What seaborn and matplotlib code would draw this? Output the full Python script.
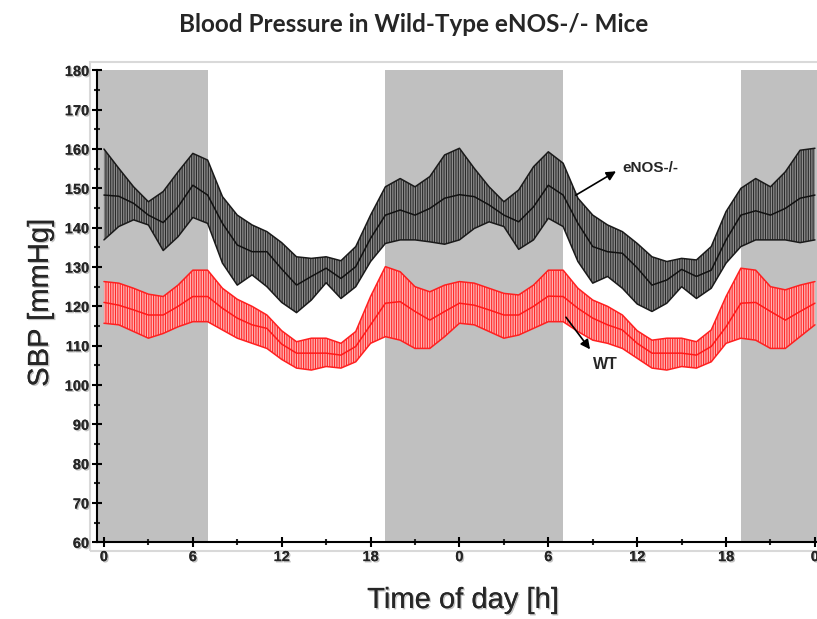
import numpy as np
import pandas as pd
import matplotlib.pyplot as plt
import matplotlib.patheffects as pe
from matplotlib.patches import Rectangle
from matplotlib.ticker import MultipleLocator
import seaborn as sns

# ---------------- data (hourly, double-plotted 48 h) ----------------
hours = list(range(0, 49))

enos_upper = [160.0, 155.1, 150.4, 146.6, 149.2, 154.2, 158.9, 157.2, 147.9, 143.2,
              140.7, 139.0, 136.2, 132.6, 132.2, 132.6, 131.6, 135.2, 143.2, 150.4,
              152.5, 150.4, 153.0, 158.5, 160.2, 155.1, 150.4, 146.6, 149.6, 155.5,
              159.3, 156.4, 147.5, 143.2, 140.7, 139.0, 136.0, 132.6, 131.4, 132.2,
              131.8, 135.2, 144.1, 150.0, 152.5, 150.4, 154.2, 159.7, 160.2]
enos_mean = [148.3, 148.0, 146.2, 143.2, 141.3, 145.3, 150.8, 148.3, 141.1, 135.6,
             133.9, 133.9, 129.5, 125.4, 127.6, 129.7, 127.1, 130.1, 137.3, 143.2,
             144.5, 143.2, 144.9, 147.5, 148.4, 147.9, 145.8, 143.2, 141.5, 145.3,
             150.8, 148.3, 141.1, 135.2, 133.9, 133.5, 129.8, 125.4, 126.7, 129.4,
             127.6, 129.2, 136.9, 143.2, 144.3, 143.2, 144.9, 147.5, 148.3]
enos_lower = [136.9, 140.3, 142.0, 140.7, 134.2, 137.7, 142.6, 141.1, 131.0, 125.4,
              128.0, 125.0, 121.0, 118.4, 121.6, 126.0, 122.0, 125.0, 131.4, 136.0,
              136.9, 136.9, 136.4, 135.8, 136.9, 139.8, 141.5, 140.3, 134.5, 136.9,
              142.4, 140.3, 131.4, 125.9, 127.6, 124.6, 120.6, 118.7, 120.8, 125.0,
              122.0, 124.6, 131.0, 135.2, 136.9, 136.9, 136.9, 136.2, 136.9]

wt_upper = [126.3, 125.9, 124.6, 123.1, 122.5, 125.4, 129.2, 129.2, 124.6, 121.8,
            120.0, 117.8, 113.8, 111.0, 111.9, 111.9, 110.6, 113.6, 122.5, 130.1,
            128.8, 125.0, 123.7, 125.4, 126.3, 125.9, 124.6, 123.3, 122.9, 125.4,
            129.2, 129.2, 124.6, 121.6, 120.0, 117.8, 113.8, 111.4, 111.9, 111.9,
            111.0, 114.0, 122.5, 129.7, 129.2, 125.0, 124.2, 125.4, 126.3]
wt_mean = [121.0, 120.3, 119.1, 117.8, 117.8, 120.0, 122.5, 122.5, 119.5, 117.0,
           115.3, 114.4, 110.4, 108.1, 108.1, 108.1, 107.6, 109.8, 115.3, 120.8,
           121.2, 118.7, 116.5, 118.7, 120.8, 120.3, 119.1, 117.8, 117.8, 120.0,
           122.6, 122.5, 119.5, 117.0, 115.3, 114.0, 110.6, 108.1, 108.1, 108.1,
           107.6, 109.8, 114.8, 120.8, 121.0, 118.7, 116.5, 118.7, 120.8]
wt_lower = [115.7, 115.3, 113.6, 111.9, 113.1, 114.8, 116.1, 116.1, 114.0, 111.9,
            110.6, 109.3, 106.5, 104.3, 103.8, 104.7, 104.3, 105.9, 110.6, 112.3,
            111.4, 109.3, 109.3, 112.3, 115.7, 115.3, 113.6, 111.9, 112.7, 114.4,
            116.1, 116.1, 113.6, 111.4, 110.6, 109.3, 106.8, 104.3, 103.8, 104.7,
            104.3, 105.9, 110.6, 111.9, 111.4, 109.3, 109.3, 112.3, 115.3]

# dark (lights off) phases in hours
dark_start = [-0.5, 19, 43]
dark_end = [7, 31, 48.5]

tick_pos = [0, 6, 12, 18, 24, 30, 36, 42, 48]
tick_labels = ['0', '6', '12', '18', '0', '6', '12', '18', '0']

df = pd.DataFrame({
    'hour': hours * 2,
    'SBP': enos_mean + wt_mean,
    'group': ['eNOS-/-'] * len(hours) + ['WT'] * len(hours),
})

# ---------------- plot ----------------
sns.set_style('ticks')
plt.rcParams['font.family'] = ['Liberation Sans', 'DejaVu Sans']
plt.rcParams['hatch.linewidth'] = 0.8

fig = plt.figure(figsize=(8.17, 6.19), dpi=100)
ax = fig.add_axes([97 / 817, 1 - 542.3 / 619, 720 / 817, (542.3 - 70.4) / 619])

# light frame around the plot area
fig.patches.append(Rectangle((90 / 817, 1 - 551 / 619), 1, (551 - 62) / 619,
                             transform=fig.transFigure, fill=False,
                             edgecolor='#d9d9d9', lw=1.5, zorder=-1))

for s, e in zip(dark_start, dark_end):
    ax.axvspan(s, e, color='#c0c0c0', lw=0, zorder=0)

# SEM bands, vertical hatch mimics error bars
ax.fill_between(hours, enos_lower, enos_upper, facecolor='#8e8e8e',
                edgecolor='#2b2b2b', hatch='|||||||', linewidth=0, zorder=2)
ax.fill_between(hours, wt_lower, wt_upper, facecolor='#ffb3b3',
                edgecolor='#ff2a2a', hatch='|||||||', linewidth=0, zorder=2)

ax.plot(hours, enos_upper, color='#1a1a1a', lw=1.1, zorder=3)
ax.plot(hours, enos_lower, color='#1a1a1a', lw=1.1, zorder=3)
ax.plot(hours, wt_upper, color='#ff2020', lw=1.1, zorder=3)
ax.plot(hours, wt_lower, color='#ff2020', lw=1.1, zorder=3)

sns.lineplot(data=df, x='hour', y='SBP', hue='group',
             palette={'eNOS-/-': '#111111', 'WT': '#ff1a1a'},
             linewidth=1.1, legend=False, ax=ax, zorder=4)

# annotations
ax.annotate('', xy=(34.73, 154.7), xytext=(31.69, 147.9),
            arrowprops=dict(arrowstyle='-|>', color='black', lw=1.2, mutation_scale=14),
            zorder=5)
ax.text(35.02, 155.1, 'eNOS-/-', fontsize=11, fontweight='bold', va='center', ha='left')
ax.annotate('', xy=(32.93, 108.5), xytext=(31.08, 117.8),
            arrowprops=dict(arrowstyle='-|>', color='black', lw=1.2, mutation_scale=14),
            zorder=5)
ax.text(33.04, 105.3, 'WT', fontsize=11.5, fontweight='bold', va='center', ha='left')

ax.set_xlim(-0.47, 48.14)
ax.set_ylim(60, 180)
ax.set_xticks(tick_pos)
ax.set_xticklabels(tick_labels)
ax.xaxis.set_minor_locator(MultipleLocator(3))
ax.set_yticks(range(60, 181, 10))
ax.yaxis.set_minor_locator(MultipleLocator(5))

shadow = [pe.withSimplePatchShadow(offset=(1, -1), shadow_rgbFace='#999999', alpha=0.6), pe.Normal()]
ax.tick_params(axis='both', which='major', direction='inout', length=7.2, width=1.5,
               labelsize=10.5, pad=2, color='black')
ax.tick_params(axis='y', which='minor', direction='inout', length=5, width=1.5)
ax.tick_params(axis='x', which='minor', direction='inout', length=3.8, width=1.5)
for lab in ax.get_xticklabels() + ax.get_yticklabels():
    lab.set_fontweight('bold')
    lab.set_path_effects(shadow)

for side in ['top', 'right']:
    ax.spines[side].set_visible(False)
for side in ['left', 'bottom']:
    ax.spines[side].set_linewidth(1.5)
    ax.spines[side].set_color('black')
    ax.spines[side].set_zorder(6)

ax.set_xlabel('')
ax.set_ylabel('')
fig.text(463 / 817, 1 - 600 / 619, 'Time of day [h]', fontsize=21, ha='center', va='center',
         path_effects=shadow)
fig.text(40 / 817, 1 - 303 / 619, 'SBP [mmHg]', fontsize=21, ha='center', va='center',
         rotation=90, path_effects=shadow)
fig.text(414 / 817, 1 - 25 / 619, 'Blood Pressure in Wild-Type eNOS-/- Mice',
         fontsize=17.5, fontweight='bold', ha='center', va='center', family=['Lato', 'DejaVu Sans'])

fig.savefig('out.png', dpi=100)
